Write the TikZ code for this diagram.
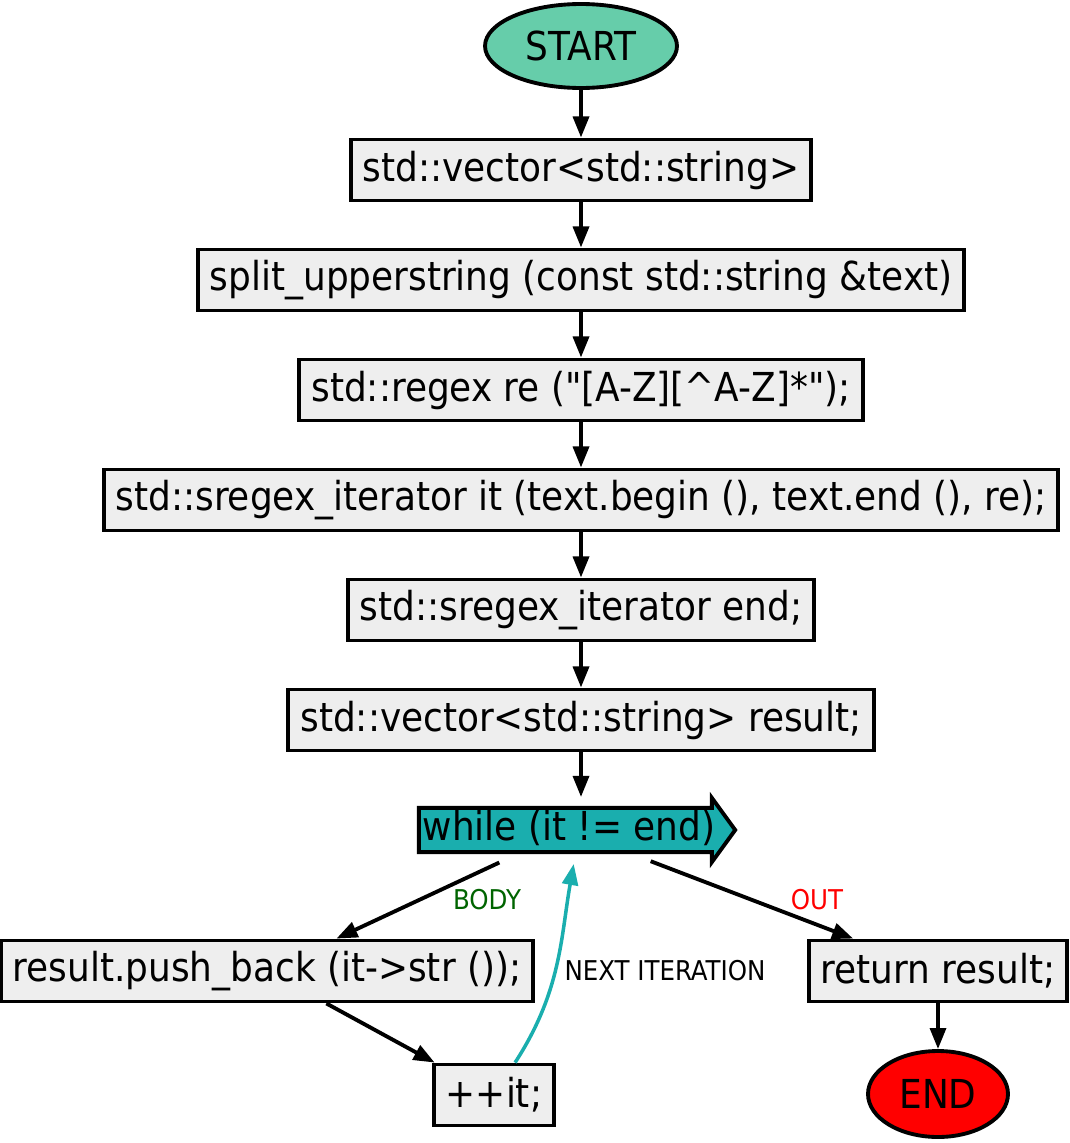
\documentclass[tikz,border=0pt]{standalone}
\usepackage{fontspec}
\setmainfont{DejaVu Sans Condensed}
\usetikzlibrary{shapes.geometric,shapes.arrows,arrows.meta}
\definecolor{startgreen}{RGB}{102,205,170}
\definecolor{boxgray}{RGB}{238,238,238}
\definecolor{loopteal}{RGB}{26,174,174}
\definecolor{bodygreen}{RGB}{0,100,0}
\tikzset{
  stmt/.style={draw, fill=boxgray, line width=2.2pt, inner xsep=0.24cm, minimum height=1.22cm, font=\fontsize{22.7}{28}\selectfont},
  term/.style={ellipse, draw, line width=2.2pt, inner sep=0pt, font=\fontsize{22.7}{28}\selectfont},
  loophead/.style={single arrow, draw, fill=loopteal, line width=2.2pt, inner xsep=0.04cm, inner ysep=0.5pt, text height=17pt, text depth=5pt, single arrow head extend=0.2cm, single arrow tip angle=108, single arrow head indent=0pt, font=\fontsize{22.7}{28}\selectfont},
  flow/.style={line width=2.2pt, -{Triangle[length=12pt,width=9pt]}},
  back/.style={line width=2pt, draw=loopteal, -{Triangle[length=12pt,width=9pt,fill=loopteal]}},
  tag/.style={font=\fontsize{15.5}{18}\selectfont}
}
\begin{document}
\begin{tikzpicture}[x=0.02cm,y=-0.02cm]
\useasboundingbox (0,0) rectangle (1069,1143);
\node[term, fill=startgreen, minimum width=3.84cm, minimum height=1.68cm] (A) at (581,46) {START};
\node[stmt] (B) at (581,170) {std::vector<std::string>};
\node[stmt] (C) at (581,280) {split\_upperstring (const std::string \&text)};
\node[stmt] (D) at (581,390) {std::regex re (\textquotedbl[A-Z][\textasciicircum A-Z]*\textquotedbl);};
\node[stmt] (E) at (581,500) {std::sregex\_iterator it (text.begin (), text.end (), re);};
\node[stmt] (F) at (581,610) {std::sregex\_iterator end;};
\node[stmt] (G) at (581,720) {std::vector<std::string> result;};
\node[loophead] (H) at (569,830) {while (it != end)};
\node[stmt] (I) at (267,971) {result.push\_back (it->str ());};
\node[stmt] (J) at (494,1095) {++it;};
\node[stmt] (K) at (938,971) {return result;};
\node[term, fill=red, minimum width=2.8cm, minimum height=1.72cm] (L) at (938,1094) {END};

\node[tag, text=bodygreen] (Tb) at (487,900) {BODY};
\node[tag, text=red] (To) at (817,900) {OUT};
\node[tag] (Tn) at (665,971) {NEXT ITERATION};

\draw[flow] (A) -- (B);
\draw[flow] (B) -- (C);
\draw[flow] (C) -- (D);
\draw[flow] (D) -- (E);
\draw[flow] (E) -- (F);
\draw[flow] (F) -- (G);
\draw[flow, shorten >=0.66cm] (G) -- (G |- H);
\draw[flow, shorten <=0.4cm] (H) -- (I);
\draw[flow, shorten <=0.4cm] (H) -- (K);
\draw[flow] (I) -- (J);
\draw[back, shorten >=0.2cm] (J.57) to[out=57, in=-100] (H.285);
\draw[flow] (K) -- (L);
\end{tikzpicture}
\end{document}
